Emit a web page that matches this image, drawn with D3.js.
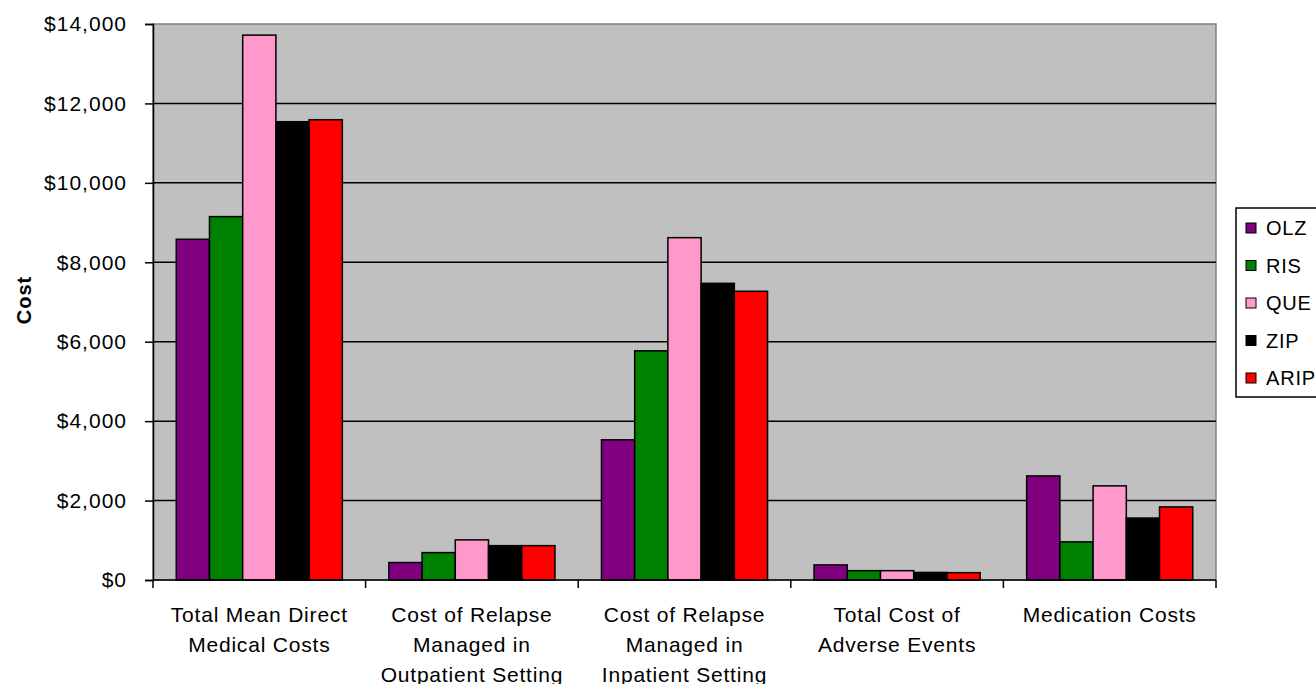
<!DOCTYPE html>
<html>
<head>
<meta charset="utf-8">
<script src="https://cdn.jsdelivr.net/npm/d3@7"></script>
<style>
    body { margin: 0; background: #fff; }
    svg { display: block; font-family: "Liberation Sans", Arial, sans-serif; }
</style>
</head>
<body>
<svg id="chart" width="1316" height="684"></svg>
<script>
(function() {
    'use strict';

    // categories, one entry per group, split into the label lines
    var categories = [
        ["Total Mean Direct", "Medical Costs"],
        ["Cost of Relapse", "Managed in", "Outpatient Setting"],
        ["Cost of Relapse", "Managed in", "Inpatient Setting"],
        ["Total Cost of", "Adverse Events"],
        ["Medication Costs"]
    ];
    var seriesNames = ["OLZ", "RIS", "QUE", "ZIP", "ARIP"];
    var seriesColors = ["#800080", "#008000", "#ff99cc", "#000000", "#ff0000"];

    var olz = [8580, 440, 3530, 380, 2620];
    var ris = [9150, 690, 5770, 235, 960];
    var que = [13720, 1010, 8620, 235, 2370];
    var zip = [11540, 865, 7470, 190, 1560];
    var arip = [11590, 865, 7270, 185, 1840];
    var seriesValues = [olz, ris, que, zip, arip];

    var yTicks = [0, 2000, 4000, 6000, 8000, 10000, 12000, 14000];

    var plot = { left: 153, right: 1216, top: 24, bottom: 580 };

    var svg = d3.select('#chart');

    var x0 = d3.scaleBand()
        .domain(d3.range(categories.length))
        .range([plot.left, plot.right])
        .padding(0);

    var x1 = d3.scaleBand()
        .domain(seriesNames)
        .range([0, x0.bandwidth()])
        .paddingInner(0)
        .paddingOuter(0.7);

    var y = d3.scaleLinear()
        .domain([0, 14000])
        .range([plot.bottom, plot.top]);

    // plot area
    svg.append('rect')
        .attr('x', plot.left)
        .attr('y', plot.top)
        .attr('width', plot.right - plot.left)
        .attr('height', plot.bottom - plot.top)
        .attr('fill', '#c0c0c0')
        .attr('stroke', '#808080')
        .attr('stroke-width', 1.5);

    // gridlines
    svg.append('g')
        .selectAll('line')
        .data(yTicks.filter(function(d) { return d > 0 && d < 14000; }))
        .enter().append('line')
        .attr('x1', plot.left)
        .attr('x2', plot.right)
        .attr('y1', function(d) { return y(d); })
        .attr('y2', function(d) { return y(d); })
        .attr('stroke', '#000')
        .attr('stroke-width', 1.5);

    // bars
    var groups = svg.append('g')
        .selectAll('g')
        .data(categories)
        .enter().append('g')
        .attr('transform', function(d, i) { return 'translate(' + x0(i) + ',0)'; });

    groups.selectAll('rect')
        .data(function(d, i) {
            return seriesNames.map(function(name, s) {
                return { name: name, color: seriesColors[s], value: seriesValues[s][i] };
            });
        })
        .enter().append('rect')
        .attr('x', function(d) { return x1(d.name); })
        .attr('y', function(d) { return y(d.value); })
        .attr('width', x1.bandwidth())
        .attr('height', function(d) { return y(0) - y(d.value); })
        .attr('fill', function(d) { return d.color; })
        .attr('stroke', '#000')
        .attr('stroke-width', 1.5);

    // y axis
    var yAxis = d3.axisLeft(y)
        .tickValues(yTicks)
        .tickSize(8)
        .tickPadding(18)
        .tickFormat(function(d) { return '$' + d3.format(',')(d); });

    var yg = svg.append('g')
        .attr('transform', 'translate(' + plot.left + ',0)')
        .call(yAxis);
    yg.select('.domain').attr('stroke', '#000').attr('stroke-width', 1.5);
    yg.selectAll('.tick line').attr('stroke', '#000').attr('stroke-width', 1.5);
    yg.selectAll('.tick text')
        .attr('fill', '#000')
        .style('font-size', '21px')
        .style('letter-spacing', '1px');

    // x axis, ticks at category boundaries
    var boundaries = d3.range(categories.length + 1).map(function(i) {
        return i < categories.length ? x0(i) : plot.right;
    });
    var xg = svg.append('g');
    xg.append('line')
        .attr('x1', plot.left)
        .attr('x2', plot.right)
        .attr('y1', plot.bottom)
        .attr('y2', plot.bottom)
        .attr('stroke', '#000')
        .attr('stroke-width', 1.5);
    xg.selectAll('line.tick')
        .data(boundaries)
        .enter().append('line')
        .attr('class', 'tick')
        .attr('x1', function(d) { return d; })
        .attr('x2', function(d) { return d; })
        .attr('y1', plot.bottom)
        .attr('y2', plot.bottom + 8)
        .attr('stroke', '#000')
        .attr('stroke-width', 1.5);

    var labels = xg.selectAll('text')
        .data(categories)
        .enter().append('text')
        .attr('text-anchor', 'middle')
        .style('font-size', '21px')
        .style('letter-spacing', '0.8px')
        .attr('fill', '#000');
    labels.selectAll('tspan')
        .data(function(d, i) {
            return d.map(function(line) { return { line: line, i: i }; });
        })
        .enter().append('tspan')
        .attr('x', function(d) { return x0(d.i) + x0.bandwidth() / 2; })
        .attr('y', function(d, j) { return 622 + j * 30; })
        .text(function(d) { return d.line; });

    // axis title
    svg.append('text')
        .attr('transform', 'translate(31,300) rotate(-90)')
        .attr('text-anchor', 'middle')
        .style('font-size', '20px')
        .style('font-weight', 'bold')
        .style('letter-spacing', '1px')
        .text('Cost');

    // legend
    var legend = svg.append('g').attr('transform', 'translate(1236,208)');
    legend.append('rect')
        .attr('width', 110)
        .attr('height', 189)
        .attr('fill', '#fff')
        .attr('stroke', '#000')
        .attr('stroke-width', 1.5);

    var items = legend.selectAll('g')
        .data(seriesNames)
        .enter().append('g')
        .attr('transform', function(d, i) { return 'translate(0,' + (20 + i * 37.5) + ')'; });
    items.append('rect')
        .attr('x', 10)
        .attr('y', -5)
        .attr('width', 10)
        .attr('height', 10)
        .attr('fill', function(d, i) { return seriesColors[i]; })
        .attr('stroke', '#000')
        .attr('stroke-width', 1);
    items.append('text')
        .attr('x', 30)
        .attr('dy', '0.36em')
        .style('font-size', '20px')
        .style('letter-spacing', '0.8px')
        .text(function(d) { return d; });
})();
</script>
</body>
</html>
